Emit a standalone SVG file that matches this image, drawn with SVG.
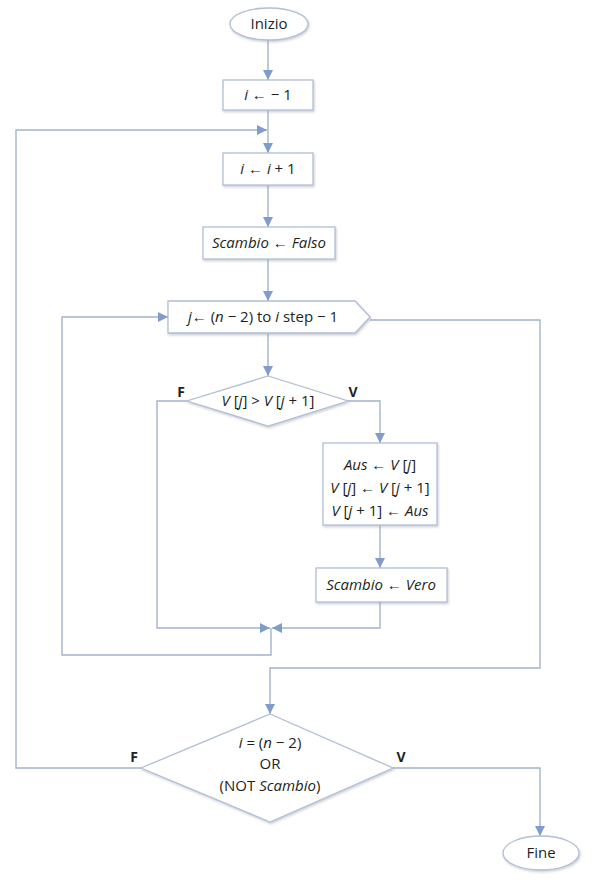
<svg xmlns="http://www.w3.org/2000/svg" width="592" height="887" viewBox="0 0 592 887">
  <style>
    .shape { fill: #ffffff; stroke: #b3bfd4; stroke-width: 1.3; filter: url(#shadow); }
    .wire { fill: none; stroke: #a3b3cc; stroke-width: 1.4; marker-end: url(#head); }
    text { font-family: "Open Sans", "Liberation Sans", sans-serif; font-size: 15px; fill: #231f20; text-anchor: middle; }
    .it { font-style: italic; }
    .tag { font-weight: bold; font-size: 14px; }
  </style>
  <defs>
    <marker id="head" viewBox="0 0 10 10" refX="10" refY="5" markerWidth="10" markerHeight="10" markerUnits="userSpaceOnUse" orient="auto">
      <path d="M0,0 L10,5 L0,10 Z" fill="#7f9ccc"/>
    </marker>
    <filter id="shadow" x="-10%" y="-10%" width="130%" height="140%">
      <feDropShadow dx="1" dy="1.5" stdDeviation="1.2" flood-color="#8a94a8" flood-opacity="0.45"/>
    </filter>
  </defs>

  <!-- connectors -->
  <g id="connectors">
    <path class="wire" d="M268,40 V80"/>
    <path class="wire" d="M268,110 V153"/>
    <path class="wire" d="M141,768 H16 V130 H267"/>
    <path class="wire" d="M268,185 V227"/>
    <path class="wire" d="M268,259 V301"/>
    <path class="wire" d="M268,333 V376"/>
    <path class="wire" d="M187,401 H157 V628 H270"/>
    <path class="wire" d="M348,401 H380 V443"/>
    <path class="wire" d="M380,525 V568"/>
    <path class="wire" d="M380,602 V628 H272"/>
    <path class="wire" d="M271,628 V655 H62 V317 H168"/>
    <path class="wire" d="M370,320 H540 V668 H270 V714"/>
    <path class="wire" d="M393,768 H540 V836"/>
  </g>

  <g id="start">
    <ellipse class="shape" cx="269" cy="24" rx="39" ry="16"/>
    <text x="269" y="29">Inizio</text>
  </g>

  <g id="init-i">
    <rect class="shape" x="223" y="80" width="90" height="30"/>
    <text x="268" y="100"><tspan class="it">i</tspan> ← − 1</text>
  </g>

  <g id="incr-i">
    <rect class="shape" x="223" y="153" width="90" height="32"/>
    <text x="268" y="174"><tspan class="it">i</tspan> ← <tspan class="it">i</tspan> + 1</text>
  </g>

  <g id="set-false">
    <rect class="shape" x="203" y="227" width="132" height="32"/>
    <text x="269" y="248"><tspan class="it">Scambio</tspan> ← <tspan class="it">Falso</tspan></text>
  </g>

  <g id="loop-j">
    <path class="shape" d="M168,301 H355 L370,317 L355,333 H168 Z"/>
    <text x="263" y="322"><tspan class="it">j</tspan>← (<tspan class="it">n</tspan> − 2) to <tspan class="it">i</tspan> step − 1</text>
  </g>

  <g id="compare">
    <path class="shape" d="M268,376 L348,401 L268,426 L187,401 Z"/>
    <text x="268" y="406"><tspan class="it">V</tspan> [<tspan class="it">j</tspan>] &gt; <tspan class="it">V</tspan> [<tspan class="it">j</tspan> + 1]</text>
    <text class="tag" x="181" y="397">F</text>
    <text class="tag" x="353" y="397">V</text>
  </g>

  <g id="swap">
    <rect class="shape" x="323" y="443" width="114" height="82"/>
    <text x="380" y="470"><tspan class="it">Aus</tspan> ← <tspan class="it">V</tspan> [<tspan class="it">j</tspan>]</text>
    <text x="380" y="493"><tspan class="it">V</tspan> [<tspan class="it">j</tspan>] ← <tspan class="it">V</tspan> [<tspan class="it">j</tspan> + 1]</text>
    <text x="380" y="516"><tspan class="it">V</tspan> [<tspan class="it">j</tspan> + 1] ← <tspan class="it">Aus</tspan></text>
  </g>

  <g id="set-true">
    <rect class="shape" x="316" y="568" width="131" height="34"/>
    <text x="381" y="590"><tspan class="it">Scambio</tspan> ← <tspan class="it">Vero</tspan></text>
  </g>

  <g id="exit-test">
    <path class="shape" d="M270,714 L393,768 L270,822 L141,768 Z"/>
    <text x="270" y="748"><tspan class="it">i</tspan> = (<tspan class="it">n</tspan> − 2)</text>
    <text x="270" y="769">OR</text>
    <text x="270" y="791">(NOT <tspan class="it">Scambio</tspan>)</text>
    <text class="tag" x="134" y="762">F</text>
    <text class="tag" x="401" y="762">V</text>
  </g>

  <g id="end">
    <ellipse class="shape" cx="541" cy="853" rx="38" ry="17"/>
    <text x="541" y="858">Fine</text>
  </g>
</svg>
